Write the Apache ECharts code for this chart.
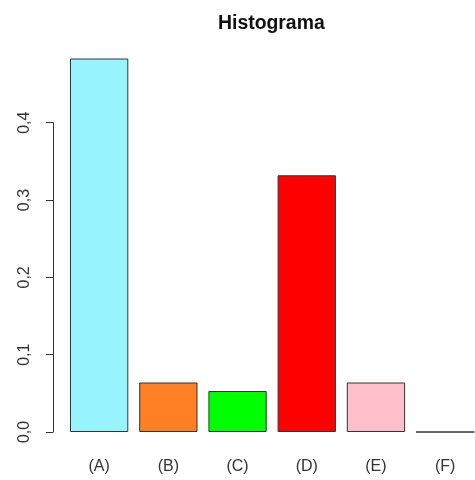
<!DOCTYPE html>
<html>
<head>
<meta charset="utf-8">
<script src="https://cdn.jsdelivr.net/npm/echarts@6/dist/echarts.min.js"></script>
<style>html,body{margin:0;padding:0;background:#fff;}#c{width:475px;height:480px;}</style>
</head>
<body>
<div id="c"></div>
<script>
const categories = ['(A)', '(B)', '(C)', '(D)', '(E)', '(F)'];
const values = [0.483, 0.064, 0.053, 0.332, 0.064, 0];
const barColors = ['#98F5FF', '#FF7F24', '#00FF00', '#FF0000', '#FFC0CB', '#FFFFFF'];
const yTicks = [0, 0.1, 0.2, 0.3, 0.4];

const chart = echarts.init(document.getElementById('c'), null, {renderer: 'canvas'});
chart.setOption({
  animation: false,
  backgroundColor: '#fff',
  title: {
    text: 'Histograma',
    left: 213,
    top: 9,
    textStyle: {fontFamily: 'Liberation Sans', fontSize: 19.4, fontWeight: 'bold', color: '#111'}
  },
  grid: {left: 64.55, width: 415.2, top: 122.7, bottom: 48, containLabel: false, outerBoundsMode: 'none'},
  xAxis: {
    type: 'category',
    data: categories,
    axisLine: {show: false},
    axisTick: {show: false},
    axisLabel: {fontFamily: 'Liberation Sans', fontSize: 16, color: '#333', margin: 27}
  },
  yAxis: {
    type: 'value',
    min: 0, max: 0.4, interval: 0.1,
    offset: 11.5,
    splitLine: {show: false},
    axisLine: {show: true, lineStyle: {color: '#333', width: 1}},
    axisTick: {show: true, length: 7, lineStyle: {color: '#333'}},
    axisLabel: {
      fontFamily: 'Liberation Sans', fontSize: 16, color: '#333', rotate: 90, margin: 20,
      formatter: v => yTicks.includes(Math.round(v*10)/10) ? v.toFixed(1).replace('.', ',') : ''
    }
  },
  series: [{
    type: 'bar',
    clip: false,
    barCategoryGap: '15.75%',
    data: values.map((v, i) => ({value: v, itemStyle: {color: barColors[i]}})),
    itemStyle: {borderColor: '#333', borderWidth: 1}
  }]
});
</script>
</body>
</html>
